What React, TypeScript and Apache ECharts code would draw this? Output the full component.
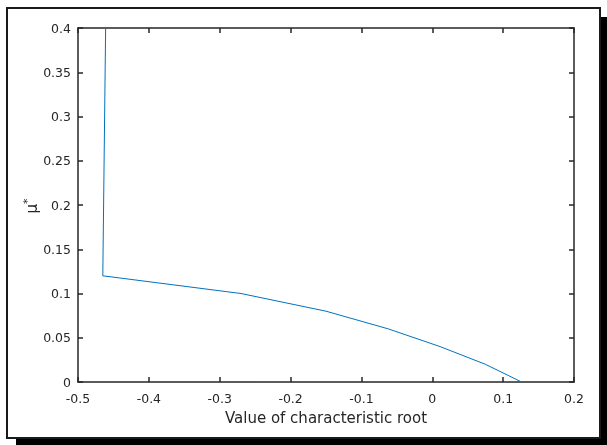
import React, { useEffect, useRef } from "react";
import * as echarts from "echarts";

const xValues = [-0.461, -0.465, -0.27, -0.15, -0.062, 0.011, 0.075, 0.126];
const yValues = [0.4, 0.12, 0.1, 0.08, 0.06, 0.04, 0.02, 0.0];
const xLabel = "Value of characteristic root";

const fmt = (v: number) => {
  const r = Math.round(v * 1000) / 1000;
  return String(r);
};

export default function App() {
  const ref = useRef<HTMLDivElement>(null);
  useEffect(() => {
    if (!ref.current) return;
    const chart = echarts.init(ref.current, null, { renderer: "svg" });
    const font = "DejaVu Sans, Liberation Sans, Arial, sans-serif";
    const axisColor = "#262626";
    const baseAxis = {
      axisLine: { show: true, onZero: false, lineStyle: { color: axisColor, width: 1.5 } },
      axisTick: { show: true, inside: true, length: 5, lineStyle: { color: axisColor, width: 1.5 } },
      splitLine: { show: false },
    };
    chart.setOption({
      animation: false,
      graphic: [
        { type: "rect", z: -10, shape: { x: 16, y: 17, width: 591, height: 428 }, style: { fill: "#000" } },
        { type: "rect", z: -9, shape: { x: 7, y: 8, width: 593, height: 430 }, style: { fill: "#fff", stroke: "#1a1a1a", lineWidth: 2 } },
        {
          type: "text",
          x: 32,
          y: 206,
          rotation: Math.PI / 2,
          style: {
            text: "{a|μ}{b|*}",
            align: "center",
            verticalAlign: "middle",
            rich: {
              a: { fontFamily: font, fontSize: 15, fill: axisColor },
              b: { fontFamily: font, fontSize: 11, fill: axisColor, verticalAlign: "top", padding: [0, 0, 9, 0] },
            },
          },
        },
      ],
      grid: { left: 78, right: 33, top: 28, bottom: 63 },
      xAxis: [
        {
          type: "value",
          min: -0.5,
          max: 0.2,
          interval: 0.1,
          position: "bottom",
          ...baseAxis,
          axisLabel: { color: axisColor, fontFamily: font, fontSize: 12.5, margin: 10, formatter: fmt },
          name: xLabel,
          nameLocation: "middle",
          nameGap: 28,
          nameTextStyle: { color: axisColor, fontFamily: font, fontSize: 15 },
        },
        {
          type: "value",
          min: -0.5,
          max: 0.2,
          interval: 0.1,
          position: "top",
          ...baseAxis,
          axisLabel: { show: false },
        },
      ],
      yAxis: [
        {
          type: "value",
          min: 0,
          max: 0.4,
          interval: 0.05,
          position: "left",
          ...baseAxis,
          axisLabel: { color: axisColor, fontFamily: font, fontSize: 12.5, margin: 7, formatter: fmt },
        },
        {
          type: "value",
          min: 0,
          max: 0.4,
          interval: 0.05,
          position: "right",
          ...baseAxis,
          axisLabel: { show: false },
        },
      ],
      series: [
        {
          type: "line",
          data: xValues.map((x, i) => [x, yValues[i]]),
          showSymbol: false,
          symbol: "none",
          lineStyle: { color: "#0072BD", width: 1 },
          clip: true,
        },
      ],
    });
    return () => chart.dispose();
  }, []);
  return (
    <div style={{ position: "fixed", left: 0, top: 0, width: 607, height: 445 }}>
      <div ref={ref} style={{ width: 607, height: 445 }} />
    </div>
  );
}
